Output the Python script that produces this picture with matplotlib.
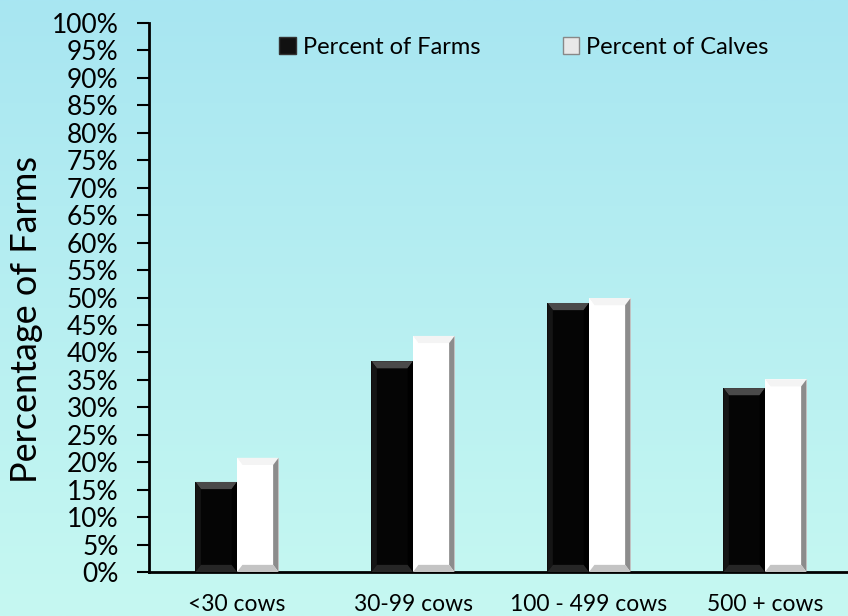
import matplotlib
matplotlib.use("Agg")
import matplotlib.pyplot as plt
import numpy as np
from matplotlib.patches import Polygon, Patch
from matplotlib.colors import LinearSegmentedColormap

categories = ["<30 cows", "30-99 cows", "100 - 499 cows", "500 + cows"]
farms = [16.4, 38.4, 49.0, 33.5]
calves = [20.8, 43.0, 49.9, 35.1]
series_names = ["Percent of Farms", "Percent of Calves"]

plt.rcParams["font.family"] = ["Lato", "DejaVu Sans"]

fig = plt.figure(figsize=(8.48, 6.16), dpi=100)

# gradient background
bg = fig.add_axes([0, 0, 1, 1], zorder=-10)
grad = np.linspace(0, 1, 256).reshape(-1, 1)
cmap = LinearSegmentedColormap.from_list("bg", ["#a8e6f2", "#c6f8f1"])
bg.imshow(grad, aspect="auto", cmap=cmap, extent=[0, 1, 0, 1], origin="upper")
bg.axis("off")

ax = fig.add_axes([149 / 848, 1 - 572 / 616, 704 / 848, (572 - 23) / 616])
ax.patch.set_alpha(0)

x = np.arange(len(categories))
w = 0.236


def bevel_bar(xc, h, face, shades):
    top, left, right, bottom = shades
    x0, x1 = xc - w / 2, xc + w / 2
    bx, by = w * 0.13, 1.3
    ax.add_patch(Polygon([(x0, 0), (x1, 0), (x1, h), (x0, h)], closed=True,
                         facecolor=face, edgecolor="none", zorder=2))
    if h < 2 * by:
        return
    ax.add_patch(Polygon([(x0, h), (x1, h), (x1 - bx, h - by), (x0 + bx, h - by)],
                         facecolor=top, edgecolor="none", zorder=3))
    ax.add_patch(Polygon([(x0, 0), (x0, h), (x0 + bx, h - by), (x0 + bx, by)],
                         facecolor=left, edgecolor="none", zorder=3))
    ax.add_patch(Polygon([(x1, 0), (x1, h), (x1 - bx, h - by), (x1 - bx, by)],
                         facecolor=right, edgecolor="none", zorder=3))
    ax.add_patch(Polygon([(x0, 0), (x1, 0), (x1 - bx, by), (x0 + bx, by)],
                         facecolor=bottom, edgecolor="none", zorder=3))


for xi, hf, hc in zip(x, farms, calves):
    bevel_bar(xi - w / 2, hf, "#050505", ("#4a4a4a", "#151515", "#000000", "#262626"))
    bevel_bar(xi + w / 2, hc, "#ffffff", ("#f4f4f4", "#ffffff", "#8c8c8c", "#c4c4c4"))

ax.set_xlim(-0.5, 3.5)
ax.set_ylim(0, 100)
ax.set_yticks(np.arange(0, 101, 5))
ax.set_yticklabels([f"{v}%" for v in range(0, 101, 5)])
ax.set_xticks(x)
ax.set_xticklabels(categories)
ax.tick_params(axis="y", labelsize=19, length=9, width=1.5, pad=13, colors="black")
ax.tick_params(axis="x", labelsize=16.5, length=0, pad=16)
for s in ["top", "right"]:
    ax.spines[s].set_visible(False)
ax.spines["left"].set_linewidth(2)
ax.spines["bottom"].set_linewidth(2)

fig.text(27 / 848, 1 - 320 / 616, "Percentage of Farms", rotation=90,
         ha="center", va="center", fontsize=26)

handles = [Patch(facecolor="#111111", edgecolor="#333333"),
           Patch(facecolor="#e8e8e8", edgecolor="#888888")]
fig.legend(handles, series_names, loc="center", bbox_to_anchor=(524 / 848, 1 - 47 / 616),
           ncol=2, frameon=False, fontsize=17, handlelength=0.7, handleheight=0.7,
           handletextpad=0.3, columnspacing=3.5)

fig.savefig("out.png", dpi=100)
